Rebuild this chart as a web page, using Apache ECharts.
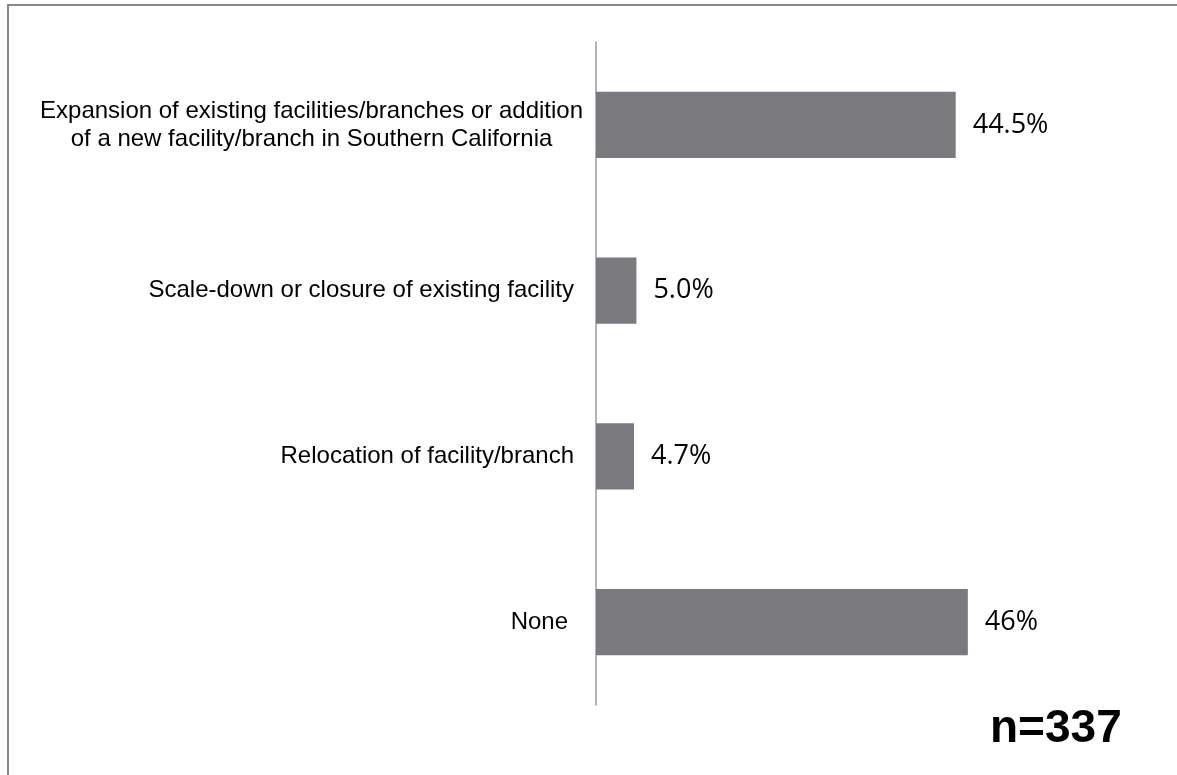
<!DOCTYPE html>
<html>
<head>
<meta charset="utf-8">
<script src="https://cdn.jsdelivr.net/npm/echarts@6/dist/echarts.min.js"></script>
<style>
html,body{margin:0;padding:0;background:#fff;}
#chart{width:1177px;height:775px;}
</style>
</head>
<body>
<div id="chart"></div>
<script>
const categories = [
  'Expansion of existing facilities/branches or addition\nof a new facility/branch in Southern California',
  'Scale-down or closure of existing facility',
  'Relocation of facility/branch',
  'None'
];
const values = [44.5, 5.0, 4.7, 46];
const valueLabels = ['44.5%', '5.0%', '4.7%', '46%'];
const sampleNote = 'n=337';
// extra right gap after each category label (style only)
const labelGap = [0, 9, 9, 15];

const chart = echarts.init(document.getElementById('chart'));
const labelFont = { fontSize: 24, fontFamily: '"Liberation Sans", Arial, sans-serif', color: '#000', lineHeight: 28 };
chart.setOption({
  backgroundColor: '#fff',
  animation: false,
  grid: { left: 596, right: 96, top: 42, bottom: 70 },
  xAxis: { type: 'value', min: 0, max: 60, show: false },
  yAxis: {
    type: 'category', inverse: true,
    data: categories.map((c, i) => ({ value: c, textStyle: { padding: [0, labelGap[i], 0, 0] } })),
    axisLine: { show: true, lineStyle: { color: '#9a9a9a', width: 1.5 } },
    axisTick: { show: false },
    splitLine: { show: false },
    axisLabel: Object.assign({
      margin: 13, align: 'right',
      formatter: v => v.split('\n').map(l => '{c|' + l + '}').join('\n'),
      rich: { c: Object.assign({ align: 'center' }, labelFont) }
    }, labelFont)
  },
  series: [{
    type: 'bar',
    data: values,
    barCategoryGap: '60%',
    itemStyle: { color: '#7a7a7e' },
    label: {
      show: true, position: 'right', distance: 17,
      color: '#000', fontSize: 27, fontFamily: '"Open Sans", sans-serif',
      formatter: p => valueLabels[p.dataIndex]
    }
  }],
  graphic: [
    { type: 'line', shape: { x1: 7, y1: 5, x2: 1177, y2: 5 }, style: { stroke: '#888', lineWidth: 2 } },
    { type: 'line', shape: { x1: 8, y1: 5, x2: 8, y2: 775 }, style: { stroke: '#888', lineWidth: 2 } },
    { type: 'text', left: 990, top: 706, style: { text: sampleNote, fill: '#000', font: 'bold 46px "Liberation Sans", Arial, sans-serif' } }
  ]
});
</script>
</body>
</html>
